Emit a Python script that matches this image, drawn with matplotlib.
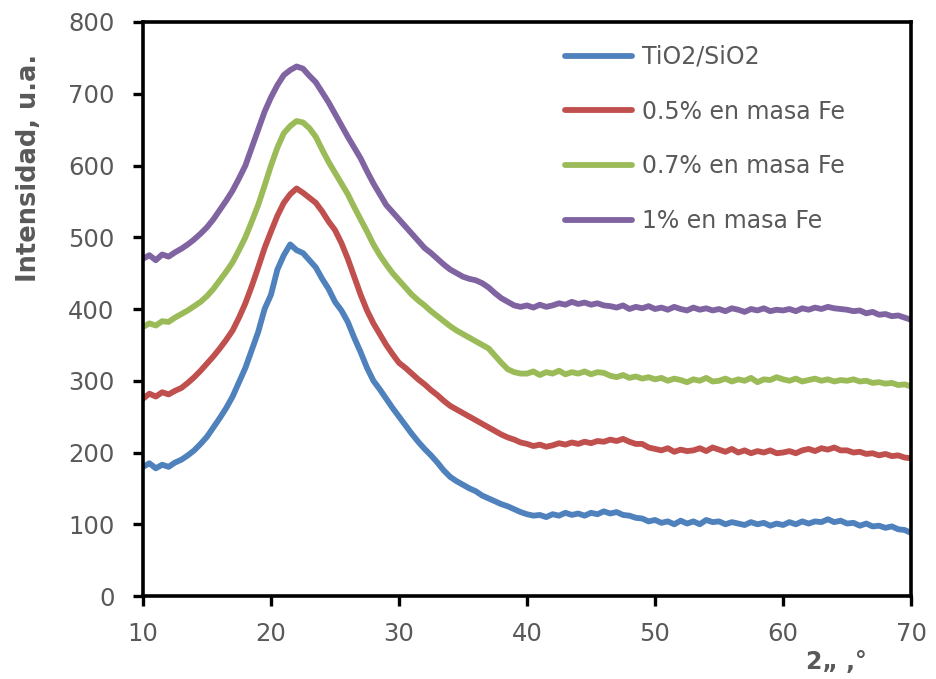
import numpy as np
import matplotlib
matplotlib.use("Agg")
import matplotlib.pyplot as plt

# 2-theta grid (degrees), sampled every 0.5 degree
two_theta = np.arange(10, 70.01, 0.5)

tio2_sio2 = [
    180, 185, 178, 183, 180, 186, 190, 196, 203, 212,
    222, 235, 248, 262, 278, 298, 318, 343, 368, 400,
    420, 455, 475, 490, 482, 478, 468, 458, 442, 428,
    410, 398, 382, 360, 340, 318, 300, 288, 275, 262,
    250, 238, 226, 215, 205, 196, 186, 175, 166, 160,
    155, 150, 146, 140, 136, 132, 128, 125, 121, 117,
    114, 112, 113, 110, 114, 112, 116, 113, 115, 112,
    116, 114, 118, 115, 117, 113, 112, 109, 108, 104,
    106, 102, 104, 100, 105, 101, 104, 100, 106, 103,
    104, 100, 103, 101, 99, 103, 100, 102, 98, 101,
    99, 103, 100, 104, 101, 104, 103, 107, 103, 105,
    101, 102, 98, 101, 97, 98, 95, 97, 93, 92,
    88,
]

fe_05 = [
    275, 282, 278, 284, 281, 286, 290, 297, 305, 314,
    324, 334, 345, 357, 370, 388, 408, 432, 458, 485,
    508, 530, 548, 560, 568, 562, 555, 548, 536, 522,
    510, 492, 470, 445, 420, 398, 380, 365, 350, 337,
    325, 318, 310, 302, 295, 287, 280, 272, 265, 260,
    255, 250, 245, 240, 235, 230, 225, 221, 218, 214,
    212, 209, 211, 208, 210, 213, 211, 214, 212, 215,
    213, 216, 215, 218, 216, 219, 215, 212, 212, 207,
    205, 203, 206, 201, 204, 202, 203, 206, 202, 207,
    204, 201, 205, 200, 203, 199, 202, 200, 203, 199,
    200, 202, 199, 203, 205, 202, 206, 204, 207, 203,
    203, 200, 201, 198, 199, 196, 198, 195, 196, 193,
    192,
]

fe_07 = [
    375, 380, 377, 383, 382, 388, 393, 398, 404, 410,
    418, 428, 440, 452, 465, 482, 500, 522, 545, 572,
    600, 625, 645, 655, 662, 660, 652, 640, 622, 605,
    590, 575, 560, 542, 525, 508, 490, 475, 462, 450,
    440, 430, 420, 412, 405, 397, 390, 383, 376, 370,
    365, 360, 355, 350, 345, 335, 325, 316, 312, 310,
    310, 313, 308, 312, 310, 314, 309, 312, 310, 313,
    309, 312, 311, 307, 305, 308, 304, 306, 303, 305,
    302, 304, 300, 303, 301, 298, 302, 300, 304, 299,
    300, 303, 299, 302, 300, 304, 298, 302, 301, 305,
    302, 300, 303, 299, 301, 303, 300, 302, 299, 301,
    300, 302, 299, 300, 297, 298, 296, 297, 294, 295,
    292,
]

fe_1 = [
    470, 475, 468, 476, 473, 479, 484, 490, 497, 505,
    514, 525, 538, 551, 565, 582, 600, 625, 650, 675,
    695, 712, 726, 733, 738, 735, 725, 716, 702, 688,
    672, 656, 640, 625, 610, 592, 575, 560, 545, 535,
    525, 515, 505, 495, 485, 478, 470, 462, 455, 450,
    445, 442, 440, 436, 430, 422, 415, 410, 405, 403,
    405, 402, 406, 403, 405, 408, 406, 410, 407, 409,
    406, 408, 405, 404, 402, 405, 400, 403, 401, 404,
    400, 402, 399, 403, 400, 398, 402, 399, 401, 398,
    400, 397, 401, 399, 396, 400, 398, 401, 397, 399,
    398, 400, 397, 401, 399, 402, 400, 403, 401, 400,
    399, 397, 398, 394, 396, 392, 393, 390, 391, 388,
    385,
]

series_labels = ["TiO2/SiO2", "0.5% en masa Fe", "0.7% en masa Fe", "1% en masa Fe"]
series_values = [tio2_sio2, fe_05, fe_07, fe_1]
colors = ["#4F81BD", "#C0504D", "#9BBB59", "#8064A2"]

x_ticks = [10, 20, 30, 40, 50, 60, 70]
y_ticks = [0, 100, 200, 300, 400, 500, 600, 700, 800]

fig = plt.figure(figsize=(9.37, 6.79), dpi=100)
ax = fig.add_axes([0.1526, 0.1222, 0.8197, 0.8454])

for lab, vals, c in zip(series_labels, series_values, colors):
    ax.plot(two_theta, vals, color=c, lw=4.2, label=lab,
            solid_capstyle="round", solid_joinstyle="round")

ax.set_xlim(10, 70)
ax.set_ylim(0, 800)
ax.set_xticks(x_ticks)
ax.set_yticks(y_ticks)

grey = "#595959"
ax.tick_params(axis="both", direction="out", length=7.5, width=2.4,
               labelsize=17.5, labelcolor=grey, color="black")
ax.tick_params(axis="x", pad=11)
ax.tick_params(axis="y", pad=13)
for s in ax.spines.values():
    s.set_linewidth(2.6)
    s.set_color("black")

ax.set_ylabel("Intensidad, u.a.", fontsize=18.5, fontweight="bold", color=grey,
              family="DejaVu Sans")
ax.yaxis.set_label_coords(-0.132, 0.745)
fig.text(0.893, 0.008, "2\u201e ,\u00b0", fontsize=17, fontweight="bold",
         color=grey, ha="center", va="bottom")

leg = fig.legend(*ax.get_legend_handles_labels(), loc="upper left",
                 bbox_to_anchor=(565 / 937, 1 - 45 / 679),
                 bbox_transform=fig.transFigure, frameon=False,
                 fontsize=17, labelspacing=1.3, handlelength=2.85,
                 handletextpad=0.42, borderpad=0, borderaxespad=0)
for t in leg.get_texts():
    t.set_color(grey)
for h in leg.legend_handles:
    h.set_linewidth(4.2)

fig.savefig("out.png", dpi=100)
